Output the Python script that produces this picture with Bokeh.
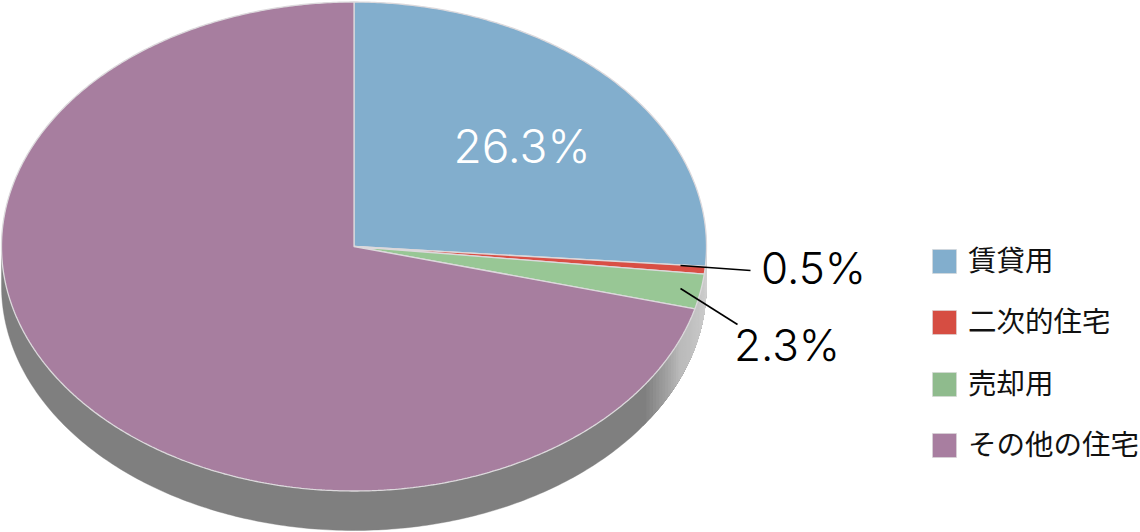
import numpy as np
from bokeh.plotting import figure
from bokeh.models import Range1d
from bokeh.core.properties import value
from bokeh.embed import file_html
from bokeh.resources import INLINE

categories = ["賃貸用", "二次的住宅", "売却用", "その他の住宅"]
values = [26.3, 0.5, 2.3, 70.9]
labels = ["26.3%", "0.5%", "2.3%", None]
colors = ["#82aecd", "#d94f45", "#98c795", "#a77e9f"]
legend_colors = ["#82aecd", "#d64d42", "#8fbb8d", "#a87ea0"]

W, H = 1140, 532
CX, CY, RX, RY, DEPTH = 353.5, 246.0, 352.5, 244.5, 39.5

p = figure(width=W, height=H, x_range=Range1d(0, W), y_range=Range1d(H, 0),
           toolbar_location=None, output_backend="svg", min_border=0,
           outline_line_color=None, background_fill_color="white")
p.axis.visible = False
p.grid.visible = False


def hexmix(a, b, f):
    ca = [int(a[i:i + 2], 16) for i in (1, 3, 5)]
    cb = [int(b[i:i + 2], 16) for i in (1, 3, 5)]
    return "#%02x%02x%02x" % tuple(round(x + (y - x) * f) for x, y in zip(ca, cb))


def rim(d0, d1, color, n=60, lw=0.0):
    t = np.radians(np.linspace(d0, d1, n))
    ex = CX + RX * np.sin(t)
    ey = CY - RY * np.cos(t)
    p.patch(np.r_[ex, ex[::-1]], np.r_[ey, (ey + DEPTH)[::-1]],
            fill_color=color, line_color=color, line_width=lw)


# side wall: solid dark part, then lighter strips toward the right edge
rim(124, 270, "#7f7f7f", n=200, lw=0.4)
for d in np.arange(124, 90, -1.0):
    f = (d - 90) / 22 if d < 112 else (d - 112) / 12
    col = hexmix("#d2d2d2", "#bababa", f) if d < 112 else hexmix("#bababa", "#7f7f7f", f)
    rim(90, d + 1, col, n=40)

# top face, wedge angles come from the values
total = sum(values)
edges = np.cumsum([0] + values) / total * 2 * np.pi
for i, c in enumerate(colors):
    t = np.linspace(edges[i], edges[i + 1], max(4, int((edges[i + 1] - edges[i]) * 120)))
    wx = np.r_[CX, CX + RX * np.sin(t)]
    wy = np.r_[CY, CY - RY * np.cos(t)]
    p.patch(wx, wy, fill_color=c, line_color="#dcd9dc", line_width=1.3)

# leader lines
p.line([680, 750], [265, 270], line_color="black", line_width=1.6)
p.line([680, 737], [288, 324], line_color="black", line_width=1.6)

# value labels
FONT = value("Inter Light")
p.text([521.5], [145.5], text=[labels[0]], text_color="white", text_font=FONT,
       text_font_size="46px", text_align="center", text_baseline="middle")
p.text([813], [267], text=[labels[1]], text_color="black", text_font=FONT,
       text_font_size="44px", text_align="center", text_baseline="middle")
p.text([786.5], [344], text=[labels[2]], text_color="black", text_font=FONT,
       text_font_size="44px", text_align="center", text_baseline="middle")

# legend
leg_y = [261, 322, 384, 445]
p.rect([944] * 4, leg_y, width=24, height=24, fill_color=legend_colors,
       line_color="#d8d8d8", line_width=0.6)
p.text([967.5] * 4, [y - 3 for y in leg_y], text=categories, text_color="#111111",
       text_font=value("Noto Sans CJK JP"), text_font_size="28.5px",
       text_align="left", text_baseline="middle")

open("out.html", "w").write(file_html(p, INLINE))
